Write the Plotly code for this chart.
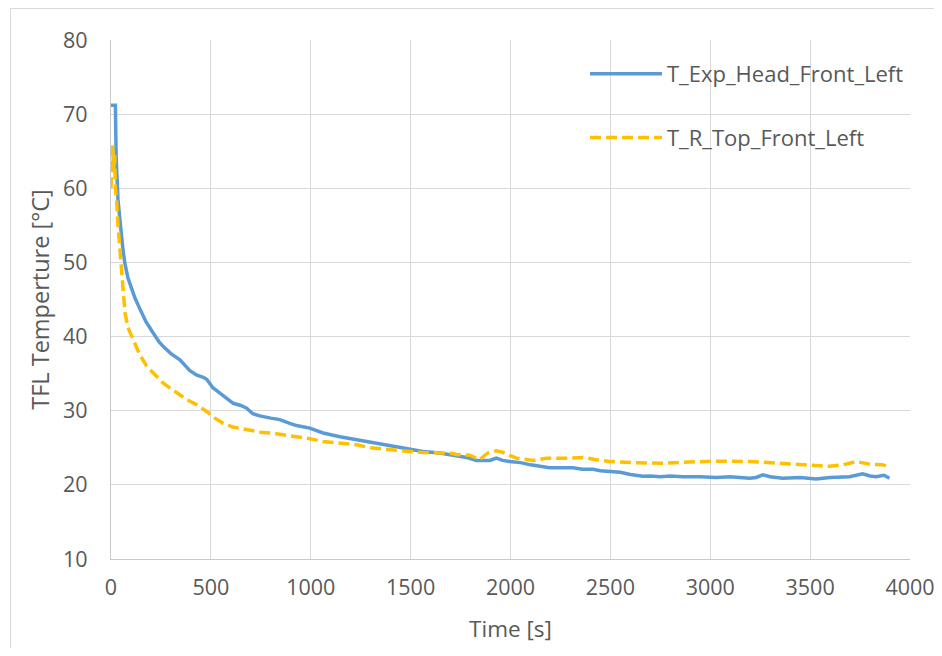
import plotly.graph_objects as go

# ---- data ----
blue_name = "T_Exp_Head_Front_Left"
blue_t = [0, 22, 26, 30, 35, 43, 50, 60, 70, 85, 103, 120, 145, 175, 212, 240, 262, 300, 345,
          395, 430, 462, 480, 495, 510, 529, 570, 612, 650, 679, 710, 745, 800, 845, 895, 929,
          995, 1062, 1146, 1229, 1329, 1396, 1479, 1562, 1646, 1729, 1780, 1829, 1863, 1896,
          1929, 1960, 1996, 2050, 2100, 2150, 2196, 2250, 2312, 2360, 2413, 2450, 2496, 2550,
          2600, 2663, 2700, 2750, 2800, 2863, 2950, 3030, 3100, 3197, 3230, 3263, 3300, 3363,
          3450, 3530, 3600, 3650, 3697, 3763, 3800, 3830, 3870, 3897]
blue_T = [71.2, 71.2, 64.0, 60.7, 58.5, 56.2, 54.0, 51.7, 49.8, 47.9, 46.5, 45.2, 43.7, 42.0, 40.45,
          39.3, 38.65, 37.7, 36.85, 35.4, 34.8, 34.5, 34.2, 33.6, 33.1, 32.7, 31.9, 31.0, 30.7,
          30.35, 29.6, 29.3, 29.0, 28.8, 28.3, 28.0, 27.65, 27.0, 26.5, 26.1, 25.6, 25.3, 24.8,
          24.5, 24.3, 23.9, 23.7, 23.3, 23.3, 23.3, 23.6, 23.3, 23.15, 23.0, 22.7, 22.5, 22.3,
          22.3, 22.3, 22.1, 22.1, 21.9, 21.85, 21.7, 21.4, 21.15, 21.2, 21.1, 21.2, 21.1, 21.1,
          21.0, 21.1, 20.9, 21.0, 21.35, 21.1, 20.9, 21.0, 20.8, 21.0, 21.0, 21.1, 21.5, 21.2,
          21.1, 21.3, 20.9]

yellow_name = "T_R_Top_Front_Left"
yellow_t = [0, 4, 8, 13, 18, 22, 28, 35, 43, 53, 60, 70, 85, 112, 145, 179, 220, 262, 320, 379,
            430, 479, 520, 562, 610, 679, 750, 829, 929, 1000, 1062, 1196, 1229, 1300, 1396, 1446,
            1562, 1696, 1729, 1796, 1846, 1886, 1929, 1960, 2029, 2113, 2179, 2279, 2363, 2429,
            2496, 2600, 2696, 2763, 2863, 3030, 3197, 3363, 3530, 3597, 3663, 3730, 3797, 3863,
            3887]
yellow_T = [60.0, 62.0, 65.8, 62.5, 64.5, 60.0, 58.5, 55.0, 52.5, 48.5, 46.5, 43.2, 41.2, 39.5,
            37.5, 36.0, 34.8, 33.7, 32.6, 31.5, 30.8, 29.9, 29.0, 28.3, 27.8, 27.4, 27.1, 26.9,
            26.5, 26.2, 25.85, 25.45, 25.4, 25.0, 24.8, 24.7, 24.35, 24.3, 24.1, 24.0, 23.4, 24.3,
            24.6, 24.4, 23.6, 23.3, 23.6, 23.6, 23.7, 23.4, 23.15, 23.0, 22.9, 22.9, 23.06, 23.2,
            23.15, 22.9, 22.7, 22.5, 22.7, 23.15, 22.8, 22.7, 22.5]

x_title = "Time [s]"
y_title = "TFL Temperture [°C]"
x_range = [0, 4000]
y_range = [10, 80]

# ---- layout geometry (pixels); page body has an 8px margin ----
OFF = 8
W, H = 934, 640
ML, MR, MT, MB = 103, 32, 32, 89
PW, PH = W - ML - MR, H - MT - MB

FONT = "Open Sans"
TXT = "#595959"
GRID = "#d9d9d9"

fig = go.Figure()
fig.add_trace(go.Scatter(x=blue_t, y=blue_T, mode="lines", name=blue_name,
                         legendgroup="a",
                         line=dict(color="#5b9bd5", width=3.5)))
fig.add_trace(go.Scatter(x=yellow_t, y=yellow_T, mode="lines", name=yellow_name,
                         legendgroup="b",
                         line=dict(color="#ffc000", width=3.5, dash="11px,5px")))


def px_x(p):
    """page pixel x -> paper coordinate"""
    return (p - OFF - ML) / PW


def px_y(p):
    """page pixel y -> paper coordinate"""
    return 1 - (p - OFF - MT) / PH


# outer chart-area border
fig.add_shape(type="rect", xref="paper", yref="paper",
              x0=px_x(10.5), x1=px_x(990), y0=px_y(700), y1=px_y(8.5),
              line=dict(color=GRID, width=1), fillcolor="rgba(0,0,0,0)", layer="below")

fig.update_layout(
    width=W, height=H,
    margin=dict(l=ML, r=MR, t=MT, b=MB, autoexpand=False),
    paper_bgcolor="white", plot_bgcolor="white",
    font=dict(family=FONT, size=22, color=TXT),
    showlegend=True,
    legend=dict(x=px_x(585), y=px_y(53), xanchor="left", yanchor="top",
                bgcolor="rgba(255,255,255,0)", font=dict(size=22, color=TXT),
                tracegroupgap=32, itemwidth=72),
    xaxis=dict(range=x_range, dtick=500, showgrid=True, gridcolor=GRID, gridwidth=1.3,
               zeroline=False, showline=True, linecolor="#c8c8c8", linewidth=1.3,
               ticks="", ticklabelstandoff=9, ticklabeloverflow="allow",
               tickfont=dict(size=21.5, color=TXT),
               title=dict(text=x_title, standoff=21, font=dict(size=22.5, color=TXT)),
               automargin=False),
    yaxis=dict(range=y_range, dtick=10, showgrid=True, gridcolor=GRID, gridwidth=1.3,
               zeroline=False, showline=True, linecolor="#c8c8c8", linewidth=1.3,
               ticks="", ticklabelstandoff=18, ticklabeloverflow="allow",
               tickfont=dict(size=21.5, color=TXT),
               title=dict(text=y_title, standoff=6, font=dict(size=23.5, color=TXT)),
               automargin=False),
)

fig.write_html("out.html")
